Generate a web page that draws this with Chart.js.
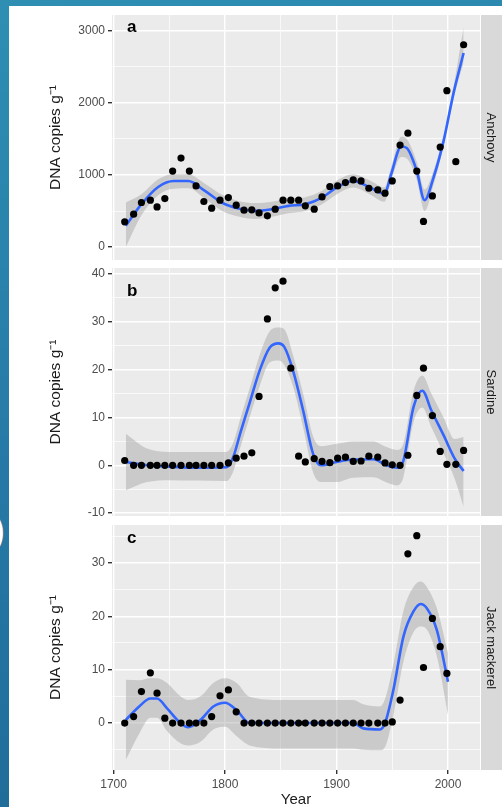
<!DOCTYPE html>
<html>
<head>
<meta charset="utf-8">
<script src="https://cdn.jsdelivr.net/npm/chart.js@4.4.1/dist/chart.umd.min.js"></script>
<style>
  html, body { margin: 0; padding: 0; }
  body {
    width: 502px; height: 807px; overflow: hidden; position: relative;
    background: linear-gradient(165deg, #2e8fb3 0%, #2679a6 50%, #1e6895 100%);
    font-family: "Liberation Sans", Arial, sans-serif;
  }
  #card { position: absolute; left: 9px; top: 6px; right: 0; bottom: 0; background: #fff; }
  .paren { position: absolute; left: -8px; top: 510px; color: #fff; font-size: 40px; line-height: 1; }
  canvas { position: absolute; left: 0; }
</style>
</head>
<body>
<div id="card"></div>
<div class="paren">)</div>
<canvas id="anchovy" width="502" height="264" style="top:0px"></canvas>
<canvas id="sardine" width="502" height="256" style="top:264px"></canvas>
<canvas id="jack" width="502" height="287" style="top:520px"></canvas>
<script>
// sample years (sediment core layers)
const years = [1710, 1718, 1725, 1733, 1739, 1746, 1753, 1760.5, 1768, 1774, 1781, 1788, 1795.5,
  1803, 1810, 1817, 1824, 1830.5, 1838, 1845, 1852, 1859, 1866, 1872, 1880, 1887, 1894, 1901,
  1908, 1915, 1922, 1929, 1937, 1943.5, 1950, 1957, 1964, 1972, 1978, 1986, 1993, 1999, 2007, 2014];

const anchovy = [350, 456, 618, 650, 557, 673, 1055, 1235, 1055, 848, 632, 539, 650,
  687, 581, 512, 516, 474, 433, 525, 650, 650, 650, 572, 525, 696, 840, 848,
  895, 931, 917, 816, 793, 747, 917, 1415, 1581, 1055, 355, 710, 1387, 2171, 1185, 2808];
const sardine = [1.0, 0, 0, 0, 0, 0, 0, 0, 0, 0, 0, 0, 0,
  0.5, 1.5, 1.9, 2.6, 14.4, 30.6, 37.1, 38.5, 20.3, 1.9, 0.7, 1.4, 0.8, 0.55, 1.5,
  1.7, 0.8, 0.9, 1.9, 1.7, 0.5, 0.1, 0, 2.1, 14.6, 20.3, 10.4, 2.9, 0.2, 0.2, 3.1];
const jack = [0, 1.2, 5.9, 9.4, 5.6, 0.9, 0, 0, 0, 0, 0, 1.2, 5.1,
  6.2, 2.1, 0, 0, 0, 0, 0, 0, 0, 0, 0, 0, 0, 0, 0,
  0, 0, 0, 0, 0, 0, 0.2, 4.3, 31.7, 35.1, 10.4, 19.6, 14.3, 9.3, null, null];

// smoothed fits with confidence band
const anchovyFitYears = [1711, 1725, 1740, 1754, 1767, 1782, 1797, 1812, 1827, 1842, 1857, 1872, 1887,
  1901, 1915, 1930, 1943, 1949, 1958, 1963, 1972, 1979, 1987, 1996, 2005, 2014];
const anchovyFit = [295, 595, 834, 917, 917, 779, 618, 535, 502, 525, 571, 595, 687,
  834, 917, 826, 740, 1010, 1395, 1375, 1055, 650, 964, 1470, 2140, 2693];
const anchovyUpper = [618, 733, 940, 1010, 1010, 880, 730, 640, 610, 630, 670, 690, 780,
  930, 1010, 925, 830, 1100, 1530, 1500, 1180, 800, 1060, 1540, 2230, 3050];
const anchovyLower = [0, 440, 720, 810, 815, 670, 505, 425, 390, 420, 470, 500, 595,
  740, 825, 730, 630, 920, 1250, 1230, 930, 500, 860, 1400, 2060, 2560];

const sardineFitYears = [1711, 1730, 1750, 1775, 1801, 1807, 1814, 1822, 1831, 1840, 1848, 1853, 1861,
  1870, 1879, 1886, 1900, 1915, 1933, 1945, 1954, 1960, 1969, 1977, 1985, 1996, 2006, 2014];
const sardineFit = [0.7, 0, -0.3, -0.5, -0.4, 1.5, 7, 13, 19.8, 24.6, 25.5, 24.8, 19.8,
  11.5, 2.4, 0, 0.7, 1.2, 1.25, 0, -0.5, 1, 12.1, 15.6, 11.5, 6.3, 1.4, -1.2];
const sardineUpper = [6.6, 3.5, 2.8, 2.8, 2.8, 4.5, 10, 16, 23, 28, 28.8, 28.5, 23,
  15, 6, 4, 4.5, 5, 5, 3.8, 3.2, 4.5, 15.5, 18.8, 15, 10, 5.5, 5.9];
const sardineLower = [-5.2, -3.5, -3.1, -3.2, -3.3, -1.5, 4, 10, 16.5, 21.5, 21.9, 21, 16.5,
  8, -1.5, -3.5, -3.5, -2.6, -2.5, -3.6, -4.2, -2.5, 9, 12.1, 8, 2.5, -2.8, -8.7];

const jackFitYears = [1711, 1723, 1733, 1739, 1748, 1760, 1767, 1778, 1789.5, 1800, 1810.5, 1822, 1850,
  1900, 1915, 1924, 1939, 1943.5, 1951, 1960, 1969, 1975.5, 1981, 1990, 2000];
const jackFit = [0.6, 3.1, 4.6, 4.6, 2.75, 0, -0.8, 0.6, 3.1, 3.8, 2.4, 0, 0,
  0, 0, -1.0, -1.2, 0, 6.2, 16.2, 20.9, 22.3, 21.5, 17.4, 7.75];
const jackUpper = [8.1, 8.0, 8.4, 8.4, 7.5, 5, 4.3, 5, 7.5, 8.4, 7.5, 4.9, 4.3,
  4.3, 4.3, 3.5, 3.1, 4.5, 11, 21, 25.5, 26.5, 25.5, 21.5, 13.1];
const jackLower = [-6.9, -2, 1.0, 1.0, -1.5, -3.8, -4.2, -3.5, -1.2, -0.7, -2.5, -4.2, -4.75,
  -4.75, -4.75, -5.0, -5.1, -4.5, 1.5, 11.5, 17, 18.1, 17.5, 12.5, 1.5];

// axis breaks
const yearTicks = [1700, 1800, 1900, 2000];
const anchovyTicks = [0, 1000, 2000, 3000];
const sardineTicks = [-10, 0, 10, 20, 30, 40];
const jackTicks = [0, 10, 20, 30];

const FONT = '"Liberation Sans", Arial, sans-serif';

function pts(xs, ys) {
  return xs.map((x, i) => ({ x: x, y: ys[i] }));
}

// major breaks plus the minor ones half way between
function withMinor(major) {
  let out = [];
  let step = major[1] - major[0];
  out.push(major[0] - step / 2);
  major.forEach(v => { out.push(v); out.push(v + step / 2); });
  return out;
}

const panelPlugin = {
  id: 'panel',
  beforeDraw(chart, args, opts) {
    const { ctx, chartArea: a } = chart;
    ctx.save();
    ctx.fillStyle = '#ebebeb';
    ctx.fillRect(a.left, a.top, a.right - a.left, a.bottom - a.top);
    // facet strip
    ctx.fillStyle = '#d9d9d9';
    ctx.fillRect(a.right + 1, a.top, chart.width - a.right, a.bottom - a.top);
    ctx.translate(a.right + 11, (a.top + a.bottom) / 2);
    ctx.rotate(Math.PI / 2);
    ctx.fillStyle = '#1a1a1a';
    ctx.font = '13px ' + FONT;
    ctx.textAlign = 'center';
    ctx.textBaseline = 'middle';
    ctx.fillText(opts.strip, 0, 0);
    ctx.restore();
  },
  afterDraw(chart, args, opts) {
    const { ctx, chartArea: a } = chart;
    ctx.save();
    ctx.fillStyle = '#000';
    ctx.font = 'bold 17px ' + FONT;
    ctx.textAlign = 'left';
    ctx.textBaseline = 'alphabetic';
    ctx.fillText(opts.label, a.left + 15, a.top + opts.labelDy);
    ctx.restore();
  }
};

function makePanel(id, cfg) {
  const xGrid = withMinor(yearTicks).filter(v => v >= 1700 && v <= 2000);
  const yGrid = withMinor(cfg.ticks).filter(v => v > cfg.min && v < cfg.max);
  const isMajorX = v => yearTicks.includes(v);
  const isMajorY = v => cfg.ticks.includes(v);
  return new Chart(document.getElementById(id), {
    type: 'line',
    data: {
      datasets: [
        { data: pts(cfg.years, cfg.values), showLine: false, pointRadius: 3.6,
          pointBackgroundColor: '#000', pointBorderWidth: 0, order: 0 },
        { data: pts(cfg.fitYears, cfg.fit), borderColor: '#3366ff', borderWidth: 2.6,
          pointRadius: 0, cubicInterpolationMode: 'monotone', fill: false, order: 1 },
        { data: pts(cfg.fitYears, cfg.upper), borderWidth: 0, borderColor: 'transparent', pointRadius: 0,
          cubicInterpolationMode: 'monotone', fill: '+1', backgroundColor: 'rgba(153,153,153,0.4)', order: 2 },
        { data: pts(cfg.fitYears, cfg.lower), borderWidth: 0, borderColor: 'transparent', pointRadius: 0,
          cubicInterpolationMode: 'monotone', fill: false, order: 3 }
      ]
    },
    options: {
      responsive: false,
      animation: false,
      events: [],
      layout: { padding: { top: cfg.padTop, bottom: cfg.padBottom, left: 0, right: 22 } },
      plugins: {
        legend: { display: false },
        tooltip: { enabled: false },
        panel: { label: cfg.label, strip: cfg.strip, labelDy: cfg.labelDy }
      },
      scales: {
        x: {
          type: 'linear', min: 1698.6, max: 2028.7,
          afterBuildTicks: s => { s.ticks = xGrid.map(v => ({ value: v })); },
          afterFit: s => {
            s.height = cfg.showX ? 37 : 0;
            s.paddingLeft = 0; s.paddingRight = 0;
          },
          grid: {
            color: '#ffffff',
            lineWidth: c => isMajorX(c.tick.value) ? 1.4 : 0.7,
            tickColor: c => isMajorX(c.tick.value) ? '#333333' : 'transparent',
            tickLength: 4,
            drawTicks: cfg.showX
          },
          border: { display: false },
          ticks: {
            display: cfg.showX, autoSkip: false, maxRotation: 0, padding: 3,
            color: '#4d4d4d', font: { family: FONT, size: 12 },
            callback: v => isMajorX(v) ? String(v) : ''
          },
          title: {
            display: cfg.showX, text: 'Year', color: '#1a1a1a',
            font: { family: FONT, size: 15, lineHeight: 1 }, padding: { top: 0, bottom: 0 }
          }
        },
        y: {
          min: cfg.min, max: cfg.max,
          afterBuildTicks: s => { s.ticks = yGrid.map(v => ({ value: v })); },
          afterFit: s => {
            s.width = 112;
            s.paddingTop = 0; s.paddingBottom = 0;
          },
          grid: {
            color: '#ffffff',
            lineWidth: c => isMajorY(c.tick.value) ? 1.4 : 0.7,
            tickColor: c => isMajorY(c.tick.value) ? '#333333' : 'transparent',
            tickLength: 4
          },
          border: { display: false },
          ticks: {
            autoSkip: false, padding: 3, color: '#4d4d4d', font: { family: FONT, size: 12 },
            callback: v => isMajorY(v) ? String(v) : ''
          },
          title: {
            display: true, text: 'DNA copies g\u207B\u00B9', color: '#1a1a1a',
            font: { family: FONT, size: 15.5, lineHeight: 1.2 }, padding: { top: 46, bottom: 0 }
          }
        }
      }
    },
    plugins: [panelPlugin]
  });
}

makePanel('anchovy', {
  years: years, values: anchovy, fitYears: anchovyFitYears, fit: anchovyFit,
  upper: anchovyUpper, lower: anchovyLower, ticks: anchovyTicks,
  min: -180, max: 3221, padTop: 15, padBottom: 3, showX: false,
  label: 'a', strip: 'Anchovy', labelDy: 17
});
makePanel('sardine', {
  years: years, values: sardine, fitYears: sardineFitYears, fit: sardineFit,
  upper: sardineUpper, lower: sardineLower, ticks: sardineTicks,
  min: -10.6, max: 41.25, padTop: 3, padBottom: 4, showX: false,
  label: 'b', strip: 'Sardine', labelDy: 28
});
makePanel('jack', {
  years: years, values: jack, fitYears: jackFitYears, fit: jackFit,
  upper: jackUpper, lower: jackLower, ticks: jackTicks,
  min: -8.8, max: 37.1, padTop: 5, padBottom: 0, showX: true,
  label: 'c', strip: 'Jack mackerel', labelDy: 18
});
</script>
</body>
</html>
